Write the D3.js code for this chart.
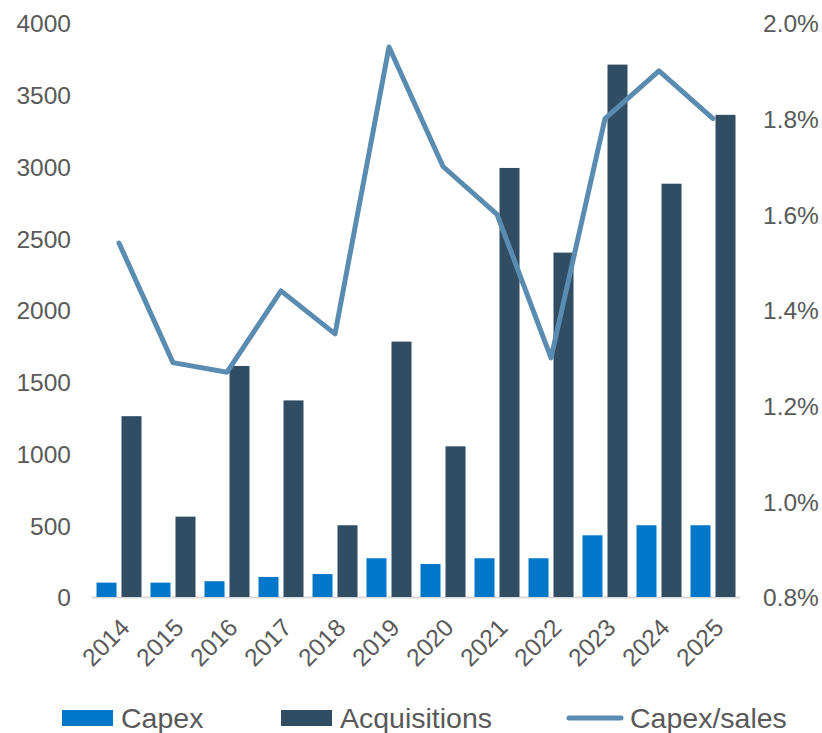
<!DOCTYPE html>
<html>
<head>
<meta charset="utf-8">
<script src="https://cdn.jsdelivr.net/npm/d3@7"></script>
<style>
	body { margin: 0; background: #fff; }
	svg text { font-family: "Liberation Sans", Arial, sans-serif; fill: #595959; }
</style>
</head>
<body>
<div id="chart"></div>
<script>
const years = ["2014", "2015", "2016", "2017", "2018", "2019", "2020", "2021", "2022", "2023", "2024", "2025"];
const capex = [100, 100, 110, 140, 160, 270, 230, 270, 270, 430, 500, 500];
const acquisitions = [1260, 560, 1610, 1370, 500, 1780, 1050, 2990, 2400, 3710, 2880, 3360];
const capexSales = [1.54, 1.29, 1.27, 1.44, 1.35, 1.95, 1.70, 1.60, 1.30, 1.80, 1.90, 1.80];
const leftTicks = [0, 500, 1000, 1500, 2000, 2500, 3000, 3500, 4000];
const rightTicks = [0.8, 1.0, 1.2, 1.4, 1.6, 1.8, 2.0];

const width = 822, height = 733;
const margin = {left: 92, right: 82, top: 23, bottom: 136};

const colors = {capex: "#0077c8", acq: "#314d64", line: "#5a8cb2"};

const svg = d3.select("#chart")
	.append("svg")
	.attr("width", width)
	.attr("height", height);

// scales
const x = d3.scaleBand()
	.domain(years)
	.range([margin.left, width - margin.right])
	.paddingInner(0.1667)
	.paddingOuter(0.0833);

const x1 = d3.scaleBand()
	.domain(["capex", "acq"])
	.range([0, x.bandwidth()])
	.paddingInner(0.2);

const y = d3.scaleLinear()
	.domain([0, 4000])
	.range([height - margin.bottom, margin.top]);

const y2 = d3.scaleLinear()
	.domain([0.8, 2.0])
	.range([height - margin.bottom, margin.top]);

// baseline
svg.append("line")
	.attr("x1", margin.left)
	.attr("x2", width - margin.right)
	.attr("y1", y(0) + 0.5)
	.attr("y2", y(0) + 0.5)
	.attr("stroke", "#d9d9d9")
	.attr("stroke-width", 2);

// bars
const groups = svg.append("g")
	.selectAll("g")
	.data(years).enter()
	.append("g")
	.attr("transform", d => `translate(${x(d)},0)`);

groups.append("rect")
	.attr("x", x1("capex"))
	.attr("width", x1.bandwidth())
	.attr("y", (d, i) => y(capex[i]))
	.attr("height", (d, i) => y(0) - y(capex[i]))
	.attr("fill", colors.capex);

groups.append("rect")
	.attr("x", x1("acq"))
	.attr("width", x1.bandwidth())
	.attr("y", (d, i) => y(acquisitions[i]))
	.attr("height", (d, i) => y(0) - y(acquisitions[i]))
	.attr("fill", colors.acq);

// capex/sales line
const line = d3.line()
	.x((d, i) => x(years[i]) + x.bandwidth() / 2)
	.y(d => y2(d));

svg.append("path")
	.datum(capexSales)
	.attr("d", line)
	.attr("fill", "none")
	.attr("stroke", colors.line)
	.attr("stroke-width", 5)
	.attr("stroke-linejoin", "round")
	.attr("stroke-linecap", "round");

// axes
const leftAxis = svg.append("g")
	.attr("transform", `translate(${margin.left - 21},0)`)
	.call(d3.axisLeft(y).tickValues(leftTicks).tickSize(0).tickPadding(0)
		.tickFormat(d3.format("d")));

const rightAxis = svg.append("g")
	.attr("transform", `translate(${width - margin.right + 23},0)`)
	.call(d3.axisRight(y2).tickValues(rightTicks).tickSize(0).tickPadding(0)
		.tickFormat(d => d.toFixed(1) + "%"));

const bottomAxis = svg.append("g")
	.attr("transform", `translate(0,${y(0) + 20})`)
	.call(d3.axisBottom(x).tickSize(0).tickPadding(0));

[leftAxis, rightAxis, bottomAxis].forEach(a => {
	a.select(".domain").remove();
	a.selectAll("text")
		.attr("font-size", 24.5)
		.attr("fill", "#595959")
		.style("font-family", "'Liberation Sans', Arial, sans-serif");
});

leftAxis.selectAll("text").attr("dy", "0.36em");
rightAxis.selectAll("text").attr("dy", "0.36em");

bottomAxis.selectAll("text")
	.attr("text-anchor", "end")
	.attr("dy", "0.7em")
	.attr("transform", "rotate(-45)");

// legend
const legendItems = [
	{label: "Capex", type: "rect", color: colors.capex, x: 62},
	{label: "Acquisitions", type: "rect", color: colors.acq, x: 281},
	{label: "Capex/sales", type: "line", color: colors.line, x: 567}
];

const legend = svg.append("g")
	.attr("transform", "translate(0,718)");

const item = legend.selectAll("g")
	.data(legendItems).enter()
	.append("g")
	.attr("transform", d => `translate(${d.x},0)`);

item.filter(d => d.type === "rect")
	.append("rect")
	.attr("x", 0)
	.attr("y", -8)
	.attr("width", 51)
	.attr("height", 16)
	.attr("fill", d => d.color);

item.filter(d => d.type === "line")
	.append("line")
	.attr("x1", 2)
	.attr("x2", 54)
	.attr("stroke", d => d.color)
	.attr("stroke-width", 5)
	.attr("stroke-linecap", "round");

item.append("text")
	.attr("x", d => d.type === "line" ? 63 : 59)
	.attr("dy", "0.36em")
	.attr("font-size", 28.5)
	.text(d => d.label);
</script>
</body>
</html>
